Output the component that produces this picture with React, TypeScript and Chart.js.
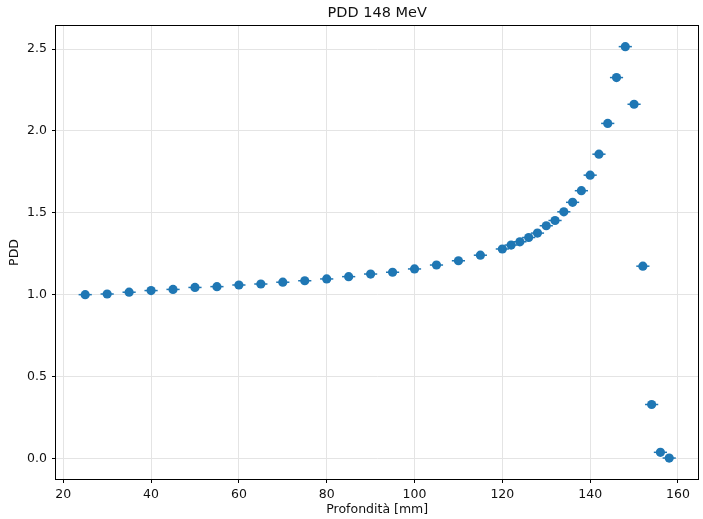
import React, { useEffect, useRef } from 'react';
import { Chart, registerables } from 'chart.js';

Chart.register(...registerables);

// Depth-dose profile for a 148 MeV beam
const TITLE = 'PDD 148 MeV';
const X_LABEL = 'Profondità [mm]';
const Y_LABEL = 'PDD';

const DEPTH_MM = [
  25, 30, 35, 40, 45, 50, 55, 60, 65, 70, 75, 80, 85, 90, 95, 100, 105, 110, 115, 120,
  122, 124, 126, 128, 130, 132, 134, 136, 138, 140, 142, 144, 146, 148, 150, 152, 154, 156, 158,
];
const PDD_VALUES = [
  1.0, 1.004, 1.015, 1.025, 1.032, 1.044, 1.049, 1.059, 1.065, 1.076, 1.085, 1.096, 1.11, 1.126,
  1.137, 1.157, 1.181, 1.207, 1.241, 1.279,
  1.303, 1.323, 1.349, 1.376, 1.421, 1.453, 1.506, 1.564, 1.635, 1.73, 1.858, 2.046, 2.326, 2.515,
  2.163, 1.174, 0.329, 0.037, 0.002,
];
// Depth uncertainty (mm), drawn as horizontal error bars
const DEPTH_ERR_MM = 1.5;

const X_TICKS = [20, 40, 60, 80, 100, 120, 140, 160];
const Y_TICKS = [0, 0.5, 1.0, 1.5, 2.0, 2.5];
const X_RANGE = [18.35, 164.65];
const Y_RANGE = [-0.126, 2.641];

const BLUE = '#1f77b4';
const FONT = 'DejaVu Sans';
const TEXT = '#111111';
const GRID = '#e4e4e4';

const errorBars = {
  id: 'errorBars',
  beforeDatasetsDraw(chart: any) {
    const { ctx, scales } = chart;
    const xs = scales.x;
    const ys = scales.y;
    ctx.save();
    ctx.strokeStyle = BLUE;
    ctx.lineWidth = 1.5;
    DEPTH_MM.forEach((d, i) => {
      const y = ys.getPixelForValue(PDD_VALUES[i]);
      ctx.beginPath();
      ctx.moveTo(xs.getPixelForValue(d - DEPTH_ERR_MM), y);
      ctx.lineTo(xs.getPixelForValue(d + DEPTH_ERR_MM), y);
      ctx.stroke();
    });
    ctx.restore();
  },
};

const frameAndTitle = {
  id: 'frameAndTitle',
  afterDraw(chart: any) {
    const { ctx, chartArea } = chart;
    const { left, right, top, bottom } = chartArea;
    ctx.save();
    ctx.strokeStyle = '#000';
    ctx.lineWidth = 1;
    ctx.strokeRect(Math.round(left) - 0.5, Math.round(top) - 0.5, Math.round(right - left) + 1, Math.round(bottom - top) + 1);
    ctx.fillStyle = TEXT;
    ctx.font = `14.5px "${FONT}"`;
    ctx.textAlign = 'center';
    ctx.textBaseline = 'middle';
    ctx.fillText(TITLE, (left + right) / 2, 13);
    ctx.restore();
  },
};

export default function App() {
  const canvasRef = useRef<HTMLCanvasElement | null>(null);

  useEffect(() => {
    const canvas = canvasRef.current;
    if (!canvas) return;
    const chart = new Chart(canvas, {
      type: 'scatter',
      data: {
        datasets: [
          {
            label: 'PDD',
            data: DEPTH_MM.map((d, i) => ({ x: d, y: PDD_VALUES[i] })),
            backgroundColor: BLUE,
            borderColor: BLUE,
            pointRadius: 4.6,
            pointBorderWidth: 0,
            pointHoverRadius: 4.6,
          },
        ],
      },
      options: {
        responsive: false,
        animation: false,
        events: [],
        layout: { padding: { top: 26, right: 1.5, left: 0, bottom: 0 } },
        plugins: {
          legend: { display: false },
          tooltip: { enabled: false },
          title: { display: false },
        },
        scales: {
          x: {
            type: 'linear',
            min: X_RANGE[0],
            max: X_RANGE[1],
            afterBuildTicks: (scale: any) => {
              scale.ticks = X_TICKS.map((v) => ({ value: v }));
            },
            afterFit: (scale: any) => {
              scale.height = 40;
            },
            grid: { color: GRID, lineWidth: 1, tickColor: '#000', tickLength: 4, tickWidth: 1 },
            border: { display: false },
            ticks: {
              color: TEXT,
              padding: 4,
              maxRotation: 0,
              font: { family: FONT, size: 12.5 },
              callback: (v: any) => String(v),
            },
            title: {
              display: true,
              text: X_LABEL,
              color: TEXT,
              font: { family: FONT, size: 12.5 },
              padding: { top: 0, bottom: 1.5 },
            },
          },
          y: {
            type: 'linear',
            min: Y_RANGE[0],
            max: Y_RANGE[1],
            afterBuildTicks: (scale: any) => {
              scale.ticks = Y_TICKS.map((v) => ({ value: v }));
            },
            afterFit: (scale: any) => {
              scale.width = 56;
            },
            grid: { color: GRID, lineWidth: 1, tickColor: '#000', tickLength: 4, tickWidth: 1 },
            border: { display: false },
            ticks: {
              color: TEXT,
              padding: 5,
              font: { family: FONT, size: 12.5 },
              callback: (v: any) => Number(v).toFixed(1),
            },
            title: {
              display: true,
              text: Y_LABEL,
              color: TEXT,
              font: { family: FONT, size: 12.5 },
              padding: { top: 7.5, bottom: 0 },
            },
          },
        },
      },
      plugins: [errorBars, frameAndTitle],
    });
    return () => chart.destroy();
  }, []);

  return (
    <div style={{ position: 'fixed', left: 0, top: 0, width: 703, height: 519, background: '#fff' }}>
      <canvas ref={canvasRef} width={703} height={519} />
    </div>
  );
}
